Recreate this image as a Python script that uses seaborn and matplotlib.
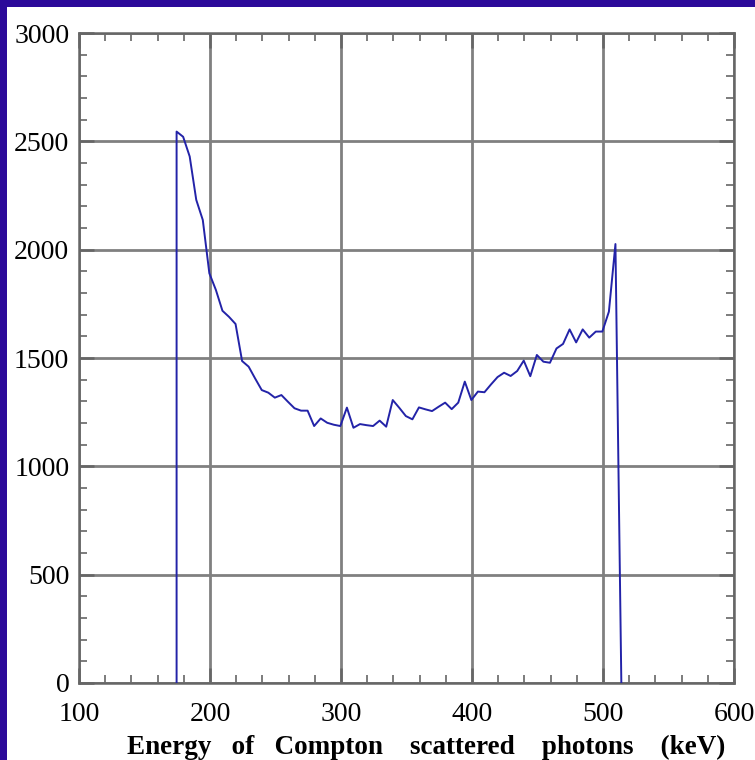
import numpy as np
import pandas as pd
import matplotlib
matplotlib.use("Agg")
import matplotlib.pyplot as plt
import seaborn as sns
from matplotlib.patches import Rectangle
from matplotlib.ticker import MultipleLocator

energy = [174.5, 174.5, 179.5, 184.5, 189.5, 194.5, 199.5, 204.5, 209.5, 214.5,
          219.5, 224.5, 229.5, 234.5, 239.5, 244.5, 249.5, 254.5, 259.5, 264.5,
          269.5, 274.5, 279.5, 284.5, 289.5, 294.5, 299.5, 304.5, 309.5, 314.5,
          319.5, 324.5, 329.5, 334.5, 339.5, 344.5, 349.5, 354.5, 359.5, 364.5,
          369.5, 374.5, 379.5, 384.5, 389.5, 394.5, 399.5, 404.5, 409.5, 414.5,
          419.5, 424.5, 429.5, 434.5, 439.5, 444.5, 449.5, 454.5, 459.5, 464.5,
          469.5, 474.5, 479.5, 484.5, 489.5, 494.5, 499.5, 504.5, 509.5, 514.0]
counts = [0, 2545, 2521, 2430, 2230, 2137, 1891, 1814, 1718, 1690,
          1657, 1486, 1460, 1405, 1352, 1340, 1317, 1329, 1298, 1268,
          1257, 1257, 1186, 1221, 1201, 1192, 1186, 1271, 1178, 1195,
          1190, 1186, 1211, 1183, 1306, 1270, 1232, 1217, 1272, 1263,
          1255, 1275, 1294, 1264, 1294, 1391, 1306, 1345, 1342, 1378,
          1412, 1432, 1417, 1440, 1488, 1416, 1514, 1483, 1478, 1544,
          1565, 1632, 1572, 1632, 1594, 1622, 1622, 1714, 2026, 0]
x_ticks = [100, 200, 300, 400, 500, 600]
y_ticks = [0, 500, 1000, 1500, 2000, 2500, 3000]
x_label = "Energy   of   Compton    scattered    photons    (keV)"

df = pd.DataFrame({"energy": energy, "counts": counts})

sns.set_theme(style="white")
plt.rcParams["font.family"] = ["Liberation Serif", "DejaVu Serif"]

fig = plt.figure(figsize=(7.55, 7.60), dpi=100, facecolor="white")
ax = fig.add_axes([79 / 755, 1 - 683 / 760, (734 - 79) / 755, (683 - 33) / 760])

# purple frame strips (top and left)
fig.patches.append(Rectangle((0, 1 - 7 / 760), 1, 7 / 760, transform=fig.transFigure,
                             facecolor="#2c0a9a", edgecolor="none", zorder=10))
fig.patches.append(Rectangle((0, 0), 7 / 755, 1, transform=fig.transFigure,
                             facecolor="#2c0a9a", edgecolor="none", zorder=10))

sns.lineplot(data=df, x="energy", y="counts", estimator=None, sort=False,
             color="#2323a8", linewidth=1.4, ax=ax, zorder=3)

ax.set_xlim(100, 600)
ax.set_ylim(0, 3000)
ax.set_xticks(x_ticks)
ax.set_yticks(y_ticks)
ax.set_xticklabels([str(v) for v in x_ticks])
ax.set_yticklabels([str(v) for v in y_ticks])
ax.xaxis.set_minor_locator(MultipleLocator(20))
ax.yaxis.set_minor_locator(MultipleLocator(100))

ax.grid(True, which="major", color="#808080", linewidth=2.0, zorder=1)
ax.set_axisbelow(True)

for s in ax.spines.values():
    s.set_visible(True)
    s.set_color("#666666")
    s.set_linewidth(1.8)

ax.tick_params(which="both", direction="in", top=True, right=True,
               bottom=True, left=True, color="#666666")
ax.tick_params(which="major", length=11, width=1.8, labelsize=20,
               labelcolor="black")
ax.tick_params(axis="x", which="major", pad=14)
ax.tick_params(axis="y", which="major", pad=7)
ax.tick_params(which="minor", length=5.5, width=1.2)

ax.set_xlabel(x_label, fontsize=19.5, fontweight="bold", color="black")
ax.xaxis.set_label_coords(0.53, -0.080)
ax.set_ylabel("")
ax.set_facecolor("white")

fig.savefig("out.png", dpi=100, facecolor="white")
